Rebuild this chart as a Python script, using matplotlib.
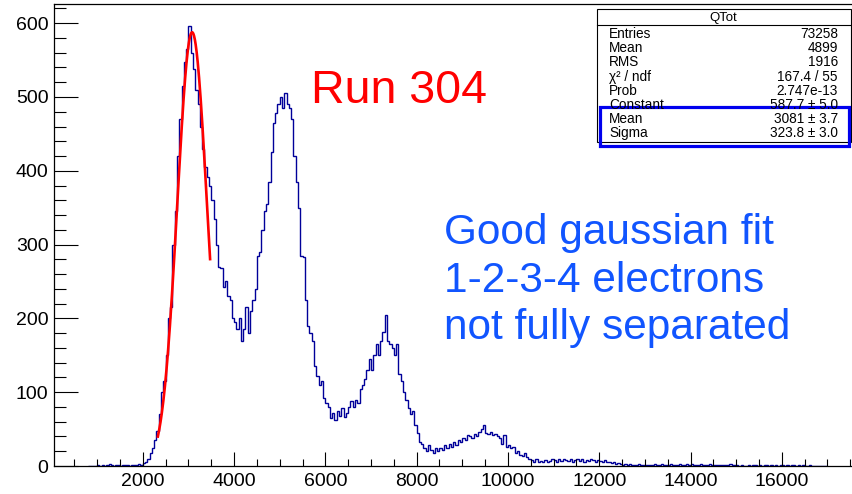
import numpy as np
import matplotlib.pyplot as plt
from matplotlib.patches import Rectangle
from matplotlib.ticker import MultipleLocator

plt.rcParams['font.family'] = ['Liberation Sans', 'DejaVu Sans']

# histogram QTot, bins of 50 starting at 800
bin_start = 800
bin_width = 50
counts = [
    0, 0, 0, 0,
    # 1000 - 2000
    1, 0, 2, 0, 1, 3, 1, 0, 2, 1, 0, 1, 2, 1, 0, 1, 2, 1, 3, 2,
    # 2000 - 3000
    4, 6, 10, 17, 24, 35, 48, 70, 100, 115, 150, 200, 215, 300, 345, 420, 470, 515, 548, 565,
    # 3000 - 4000
    596, 560, 538, 510, 490, 460, 430, 405, 392, 380, 360, 335, 300, 270, 268, 242, 250, 230, 225, 200,
    # 4000 - 5000
    195, 185, 200, 170, 185, 215, 180, 210, 225, 240, 285, 290, 320, 345, 355, 385, 425, 465, 478, 490,
    # 5000 - 6000
    500, 485, 505, 490, 485, 470, 420, 385, 350, 285, 283, 225, 190, 180, 170, 135, 122, 110, 115, 92,
    # 6000 - 7000
    85, 80, 65, 72, 62, 75, 68, 78, 66, 72, 80, 88, 80, 90, 86, 105, 110, 118, 130, 145,
    # 7000 - 8000
    130, 150, 165, 150, 170, 182, 205, 170, 165, 160, 150, 165, 125, 115, 100, 90, 78, 70, 75, 55,
    # 8000 - 9000
    45, 32, 30, 25, 20, 28, 22, 18, 25, 20, 24, 22, 28, 25, 30, 26, 32, 28, 35, 32,
    # 9000 - 10000
    38, 35, 42, 40, 38, 44, 40, 46, 50, 55, 45, 43, 46, 42, 44, 40, 38, 30, 42, 26,
    # 10000 - 11000
    28, 24, 26, 18, 20, 15, 14, 18, 12, 10, 8, 6, 9, 5, 7, 5, 8, 6, 7, 9,
    # 11000 - 12000
    8, 6, 9, 7, 10, 8, 7, 9, 6, 8, 10, 7, 9, 6, 8, 7, 9, 8, 6, 8,
    # 12000 - 13000
    7, 6, 8, 5, 6, 4, 5, 3, 4, 3, 2, 3, 2, 3, 2, 1, 2, 3, 2, 1,
    # 13000 - 14000
    2, 1, 2, 2, 3, 1, 2, 3, 2, 1, 2, 3, 2, 1, 2, 3, 2, 1, 3, 2,
    # 14000 - 15000
    3, 2, 2, 1, 3, 2, 1, 2, 3, 1, 2, 1, 2, 1, 1, 2, 1, 3, 1, 2,
    # 15000 - 16000
    1, 0, 1, 0, 0, 1, 0, 2, 1, 0, 1, 0, 1, 1, 0, 2, 0, 1, 0, 1,
    # 16000 - 17000
    1, 0, 1, 0, 1, 2, 0, 1, 0, 1, 0, 0, 1, 0, 0, 0, 0, 0, 0, 0,
]

# gaussian fit parameters
fit_const = 587.7
fit_mean = 3081
fit_sigma = 323.8
fit_range = (2330, 3475)

stats_rows = [
    ("Entries", "73258"),
    ("Mean", "4899"),
    ("RMS", "1916"),
    ("χ² / ndf", "167.4 / 55"),
    ("Prob", "2.747e-13"),
    ("Constant", "587.7 ± 5.0"),
    ("Mean", "3081 ± 3.7"),
    ("Sigma", "323.8 ± 3.0"),
]

W, H = 853, 494
fig = plt.figure(figsize=(W / 100, H / 100), dpi=100)


def fx(px):
    return px / W


def fy(py):
    return 1 - py / H


ax = fig.add_axes([fx(54), fy(466), fx(853) - fx(54), fy(4) - fy(466)])

edges = bin_start + bin_width * np.arange(len(counts) + 1)
ax.stairs(counts, edges, color='#000099', linewidth=1.0)

xf = np.linspace(fit_range[0], fit_range[1], 200)
yf = fit_const * np.exp(-0.5 * ((xf - fit_mean) / fit_sigma) ** 2)
ax.plot(xf, yf, color='red', linewidth=1.9)

ax.set_xlim(55, 17560)
ax.set_ylim(0, 626)

ax.xaxis.set_major_locator(MultipleLocator(2000))
ax.xaxis.set_minor_locator(MultipleLocator(500))
ax.yaxis.set_major_locator(MultipleLocator(100))
ax.yaxis.set_minor_locator(MultipleLocator(20))
ax.tick_params(axis='both', which='both', direction='in', labelsize=14,
               width=0.8, top=False, right=False)
ax.tick_params(axis='x', which='major', length=10, pad=5)
ax.tick_params(axis='x', which='minor', length=5)
ax.tick_params(axis='y', which='major', length=17, pad=4)
ax.tick_params(axis='y', which='minor', length=8.5)
ax.set_xticks(np.arange(2000, 17000, 2000))
for s in ax.spines.values():
    s.set_linewidth(0.9)

fig.text(fx(311), fy(103), "Run 304", color='red', fontsize=33.5,
         ha='left', va='baseline')
blue_lines = ["Good gaussian fit", "1-2-3-4 electrons", "not fully separated"]
for i, line in enumerate(blue_lines):
    fig.text(fx(444), fy(244 + 47.5 * i), line, color='#1155ff', fontsize=30.5,
             ha='left', va='baseline')

# stats box
fig.add_artist(Rectangle((fx(597), fy(142)), fx(851) - fx(597), fy(9) - fy(142),
                         transform=fig.transFigure, facecolor='white',
                         edgecolor='black', linewidth=0.8))
fig.add_artist(plt.Line2D([fx(597), fx(851)], [fy(25.5), fy(25.5)],
                          transform=fig.transFigure, color='black', linewidth=0.8))
fig.text(fx(723), fy(18), "QTot", fontsize=9.5, ha='center', va='center')
row_y = [34, 48, 62, 77, 91, 105, 119, 133]
for (name, val), yy in zip(stats_rows, row_y):
    fig.text(fx(609), fy(yy), name, fontsize=9.8, ha='left', va='center')
    fig.text(fx(838), fy(yy), val, fontsize=9.8, ha='right', va='center')

fig.add_artist(Rectangle((fx(600.5), fy(146.5)), fx(849.5) - fx(600.5), fy(106.5) - fy(146.5),
                         transform=fig.transFigure, facecolor='none',
                         edgecolor='#0000ee', linewidth=2.3))

fig.savefig("out.png", dpi=100)
